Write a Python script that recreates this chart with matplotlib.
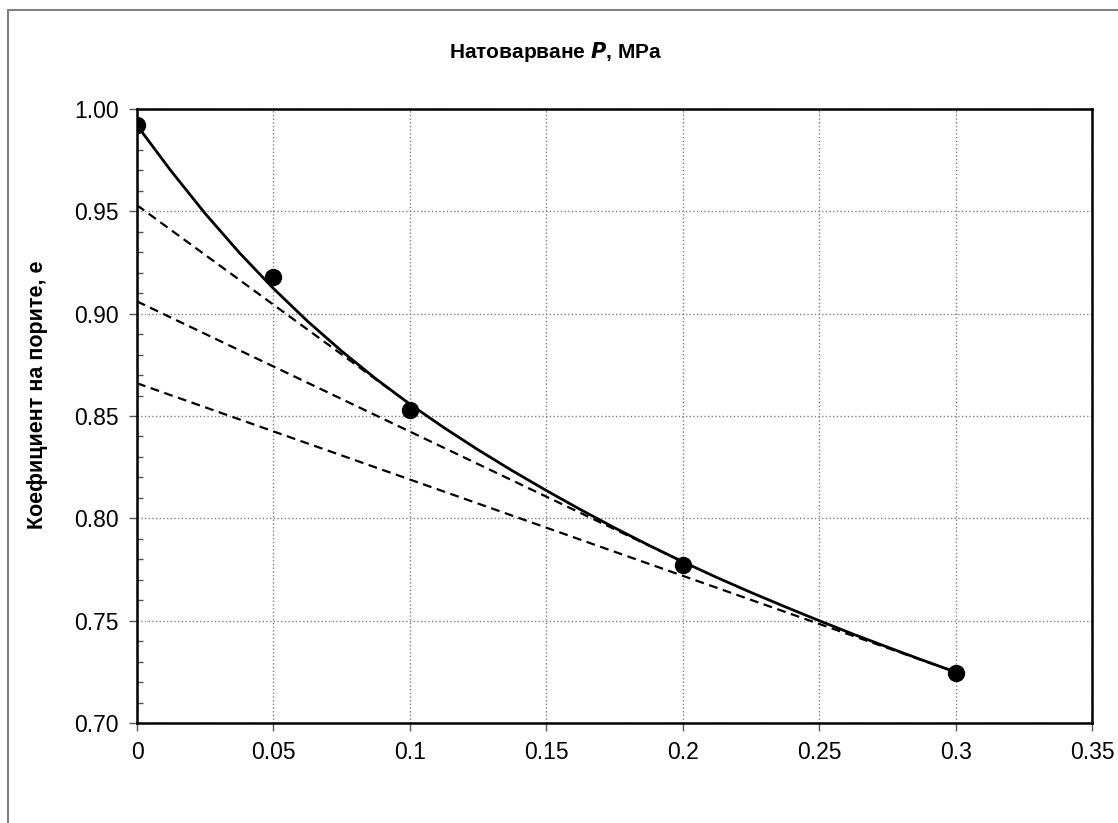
import matplotlib
matplotlib.use("Agg")
import matplotlib.pyplot as plt
from matplotlib.patches import Rectangle
from matplotlib.ticker import MultipleLocator, FixedLocator

plt.rcParams['font.family'] = ['Liberation Sans', 'DejaVu Sans']

# опитни точки
P = [0, 0.05, 0.1, 0.2, 0.3]
e = [0.992, 0.918, 0.853, 0.777, 0.7245]

# плавната крива (отчетени стойности през 0.0125)
P_curve = [0, 0.0125, 0.025, 0.0375, 0.05, 0.0625, 0.075, 0.0875, 0.1, 0.1125,
           0.125, 0.1375, 0.15, 0.1625, 0.175, 0.1875, 0.2, 0.2125, 0.225, 0.2375,
           0.25, 0.2625, 0.275, 0.2875, 0.3]
e_curve = [0.992, 0.9697, 0.9489, 0.9298, 0.9123, 0.8963, 0.8817, 0.8682, 0.8558, 0.8443,
           0.8335, 0.8233, 0.8136, 0.8043, 0.7954, 0.7869, 0.7788, 0.7711, 0.7638, 0.7568,
           0.7500, 0.7434, 0.7371, 0.7309, 0.7249]

# прекъснатите линии: от оста до точката
dash_x = [[0, 0.1], [0, 0.2], [0, 0.3]]
dash_y = [[0.953, 0.8558], [0.906, 0.7788], [0.866, 0.7249]]

x_ticks = [0, 0.05, 0.1, 0.15, 0.2, 0.25, 0.3, 0.35]
x_labels = ["0", "0.05", "0.1", "0.15", "0.2", "0.25", "0.3", "0.35"]
y_ticks = [0.70, 0.75, 0.80, 0.85, 0.90, 0.95, 1.00]
y_labels = ["0.70", "0.75", "0.80", "0.85", "0.90", "0.95", "1.00"]

fig = plt.figure(figsize=(11.18, 8.23), dpi=100)
ax = fig.add_axes([137/1118, 1-723/823, (1092-137)/1118, (723-109)/823])

# рамка на диаграмата
fig.patches.append(Rectangle((8/1118, -0.5), 2, 1.5 - 10/823, transform=fig.transFigure,
                             fill=False, edgecolor='#808080', lw=1.5))

for xs, ys in zip(dash_x, dash_y):
    ax.plot(xs, ys, color='black', lw=1.6, linestyle=(0, (4, 2.5)), zorder=3)
ax.plot(P_curve, e_curve, color='black', lw=2, zorder=4)
ax.plot(P, e, 'o', color='black', markersize=11.5, zorder=5)

ax.set_xlim(0, 0.35)
ax.set_ylim(0.70, 1.00)
ax.xaxis.set_major_locator(FixedLocator(x_ticks))
ax.set_xticklabels(x_labels)
ax.yaxis.set_major_locator(FixedLocator(y_ticks))
ax.set_yticklabels(y_labels)
ax.yaxis.set_minor_locator(MultipleLocator(0.01))

ax.grid(True, which='major', color='#808080', linestyle=':', lw=1)
ax.set_axisbelow(True)
for s in ax.spines.values():
    s.set_linewidth(1.8)
    s.set_color('black')

ax.tick_params(axis='both', which='major', direction='out', length=6, width=1,
               labelsize=16.5, color='#555555', pad=7)
ax.tick_params(axis='y', which='minor', direction='in', length=4, width=1, color='#555555')
ax.tick_params(axis='x', which='minor', length=0)

fig.text(556/1118, 1-52/823, "Натоварване $\\mathbfit{P}$, MPa", ha='center', va='center',
         fontsize=15, fontweight='bold')
fig.text(38/1118, 1-395/823, "Коефициент на порите, e", ha='center', va='center',
         rotation=90, fontsize=15.5, fontweight='bold')

fig.savefig("out.png", dpi=100)
